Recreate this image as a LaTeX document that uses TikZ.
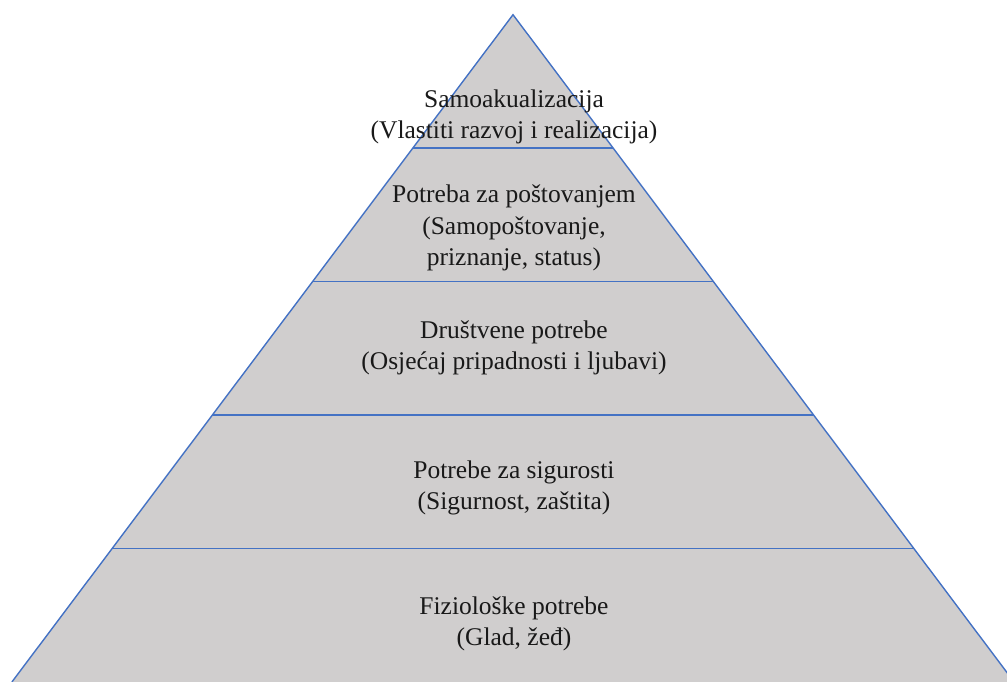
\documentclass[tikz,border=0pt]{standalone}
\usepackage{fontspec}
\setmainfont{Liberation Serif}
\usetikzlibrary{calc}
\definecolor{pyrfill}{HTML}{D0CECE}
\definecolor{pyrline}{HTML}{4472C4}
\tikzset{
  band/.style={draw=pyrline, line width=1.4pt},
  lbl/.style={align=center, font=\fontsize{25.5}{31.5}\selectfont, text=black!90, inner sep=0pt}
}
\begin{document}
\begin{tikzpicture}[x=1pt,y=-1pt]
\useasboundingbox (0,0) rectangle (1007,682);
\clip (0,0) rectangle (1007,682);
\coordinate (apex) at (513,14.7);
\coordinate (bl) at (11.9,682);
\coordinate (br) at (1014.1,682);
\fill[pyrfill] (apex) -- (bl) -- (br) -- cycle;
\draw[band] (bl) -- (apex) -- (br);
\foreach \k in {1,2,3,4}{
  \draw[band] ($(apex)!\k/5!(bl)$) -- ($(apex)!\k/5!(br)$);
}
\node[lbl] (l1) at (514,117) {Samoakualizacija\\(Vlastiti razvoj i realizacija)};
\node[lbl] (l2) at (514,228) {Potreba za poštovanjem\\(Samopoštovanje,\\priznanje, status)};
\node[lbl] (l3) at (514,348) {Društvene potrebe\\(Osjećaj pripadnosti i ljubavi)};
\node[lbl] (l4) at (514,488) {Potrebe za sigurosti\\(Sigurnost, zaštita)};
\node[lbl] (l5) at (514,624) {Fiziološke potrebe\\(Glad, žeđ)};
\end{tikzpicture}
\end{document}
